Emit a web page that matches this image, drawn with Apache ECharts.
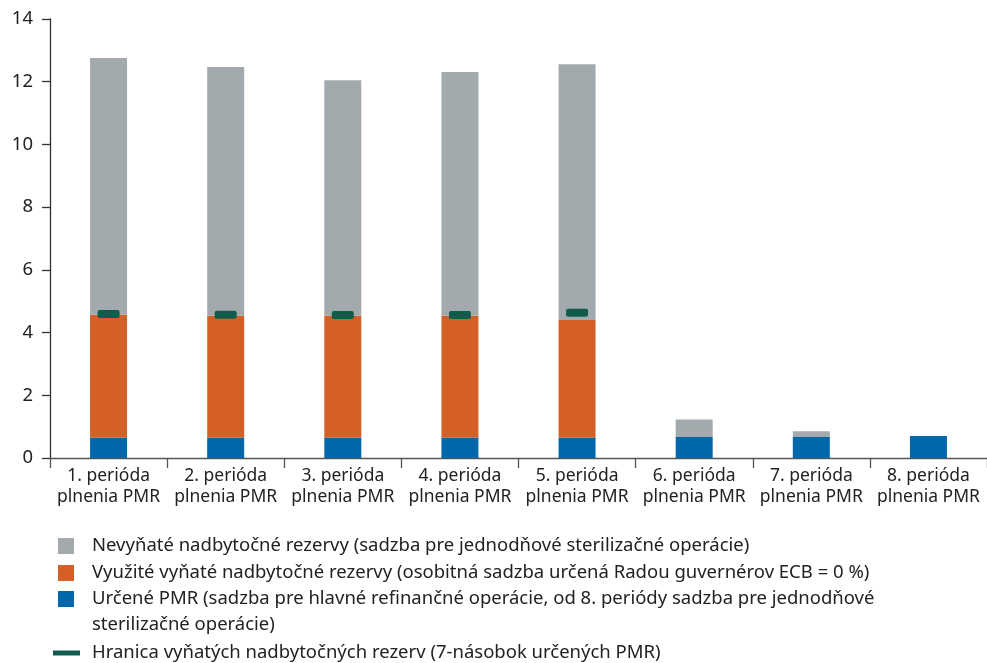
<!DOCTYPE html>
<html>
<head>
<meta charset="utf-8">
<script src="https://cdn.jsdelivr.net/npm/echarts@6/dist/echarts.min.js"></script>
<style>
  html, body { margin: 0; padding: 0; background: #fff; }
  #chart { width: 987px; height: 663px; }
</style>
</head>
<body>
<div id="chart"></div>
<script>
// Reserve-maintenance periods
const categories = [
  '1. perióda\nplnenia PMR', '2. perióda\nplnenia PMR', '3. perióda\nplnenia PMR',
  '4. perióda\nplnenia PMR', '5. perióda\nplnenia PMR', '6. perióda\nplnenia PMR',
  '7. perióda\nplnenia PMR', '8. perióda\nplnenia PMR'
];

// Stacked components (bn EUR)
const requiredReserves = [0.65, 0.65, 0.65, 0.65, 0.65, 0.67, 0.67, 0.70];
const exemptUsed       = [3.92, 3.89, 3.89, 3.89, 3.75, 0, 0, 0];
const nonExempt        = [8.19, 7.93, 7.51, 7.77, 8.16, 0.56, 0.18, 0];
// Exemption ceiling (7x required reserves), periods 1-5
const exemptionLimit   = [4.59, 4.57, 4.56, 4.56, 4.63, null, null, null];

const yTicks = [0, 2, 4, 6, 8, 10, 12, 14];

const names = {
  gray: 'Nevyňaté nadbytočné rezervy (sadzba pre jednodňové sterilizačné operácie)',
  orange: 'Využité vyňaté nadbytočné rezervy (osobitná sadzba určená Radou guvernérov ECB = 0 %)',
  blue: 'Určené PMR (sadzba pre hlavné refinančné operácie, od 8. periódy sadzba pre jednodňové sterilizačné operácie)',
  limit: 'Hranica vyňatých nadbytočných rezerv (7-násobok určených PMR)'
};
const blueFirstLine = 'Určené PMR (sadzba pre hlavné refinančné operácie, od 8. periódy sadzba pre jednodňové';
const blueSecondLine = 'sterilizačné operácie)';

const colors = { gray: '#a3aaad', orange: '#d46027', blue: '#0067ab', limit: '#0f5c4d' };
const font = '"Noto Sans", "Open Sans", sans-serif';
const legendFont = 18.5;
const legendLine = 22;

// Small rounded bar used as the ceiling marker
const limitSymbol = 'path://M2,0 H20 Q22,0 22,2 V6 Q22,8 20,8 H2 Q0,8 0,6 V2 Q0,0 2,0 Z';

// One legend block per entry so each row sits on its own baseline
function squareLegend(name, centerY, label) {
  return {
    left: 58,
    top: centerY - legendLine / 2,
    padding: 0,
    itemWidth: 16,
    itemHeight: 16,
    icon: 'rect',
    selectedMode: false,
    data: [name],
    formatter: () => label || name,
    textStyle: {
      fontSize: legendFont, lineHeight: legendLine, color: '#222',
      fontFamily: font, padding: [0, 0, 0, 13]
    }
  };
}

const chart = echarts.init(document.getElementById('chart'), null, { renderer: 'canvas' });

chart.setOption({
  animation: false,
  textStyle: { fontFamily: font },
  grid: { left: 50, right: -6, top: 19, bottom: 205, containLabel: false },
  xAxis: {
    type: 'category',
    data: categories,
    axisLine: { lineStyle: { color: '#555', width: 1.3 } },
    axisTick: { show: true, interval: 0, length: 10, lineStyle: { color: '#555', width: 1.3 } },
    axisLabel: {
      interval: 0, color: '#222', fontSize: 17.5, lineHeight: 21, margin: 8, fontFamily: font
    }
  },
  yAxis: {
    type: 'value',
    min: yTicks[0],
    max: yTicks[yTicks.length - 1],
    interval: 2,
    axisLine: { show: true, lineStyle: { color: '#333', width: 1.3 } },
    axisTick: { show: true, inside: false, length: 8, lineStyle: { color: '#333', width: 1.3 } },
    axisLabel: { color: '#222', fontSize: 18.5, margin: 17, fontFamily: font },
    splitLine: { show: false }
  },
  legend: [
    squareLegend(names.gray, 546),
    squareLegend(names.orange, 573),
    squareLegend(names.blue, 599, blueFirstLine),
    {
      left: 53,
      top: 653 - legendLine / 2,
      padding: 0,
      itemWidth: 27,
      itemHeight: 5,
      icon: 'path://M0,0 L27,0 L27,5 L0,5 Z',
      selectedMode: false,
      data: [names.limit],
      textStyle: {
        fontSize: legendFont, lineHeight: legendLine, color: '#222',
        fontFamily: font, padding: [0, 0, 0, 7]
      }
    }
  ],
  graphic: [
    {
      type: 'text',
      left: 92,
      top: 625 - legendLine / 2,
      style: {
        text: blueSecondLine, fontSize: legendFont, lineHeight: legendLine,
        fill: '#222', fontFamily: font
      }
    }
  ],
  series: [
    {
      name: names.blue,
      type: 'bar',
      stack: 'reserves',
      barWidth: 37,
      data: requiredReserves,
      itemStyle: { color: colors.blue }
    },
    {
      name: names.orange,
      type: 'bar',
      stack: 'reserves',
      barWidth: 37,
      data: exemptUsed,
      itemStyle: { color: colors.orange }
    },
    {
      name: names.gray,
      type: 'bar',
      stack: 'reserves',
      barWidth: 37,
      data: nonExempt,
      itemStyle: { color: colors.gray }
    },
    {
      name: names.limit,
      type: 'scatter',
      data: exemptionLimit,
      symbol: limitSymbol,
      symbolSize: [22, 8],
      symbolKeepAspect: false,
      z: 5,
      itemStyle: { color: colors.limit, opacity: 1 }
    }
  ]
});
</script>
</body>
</html>
